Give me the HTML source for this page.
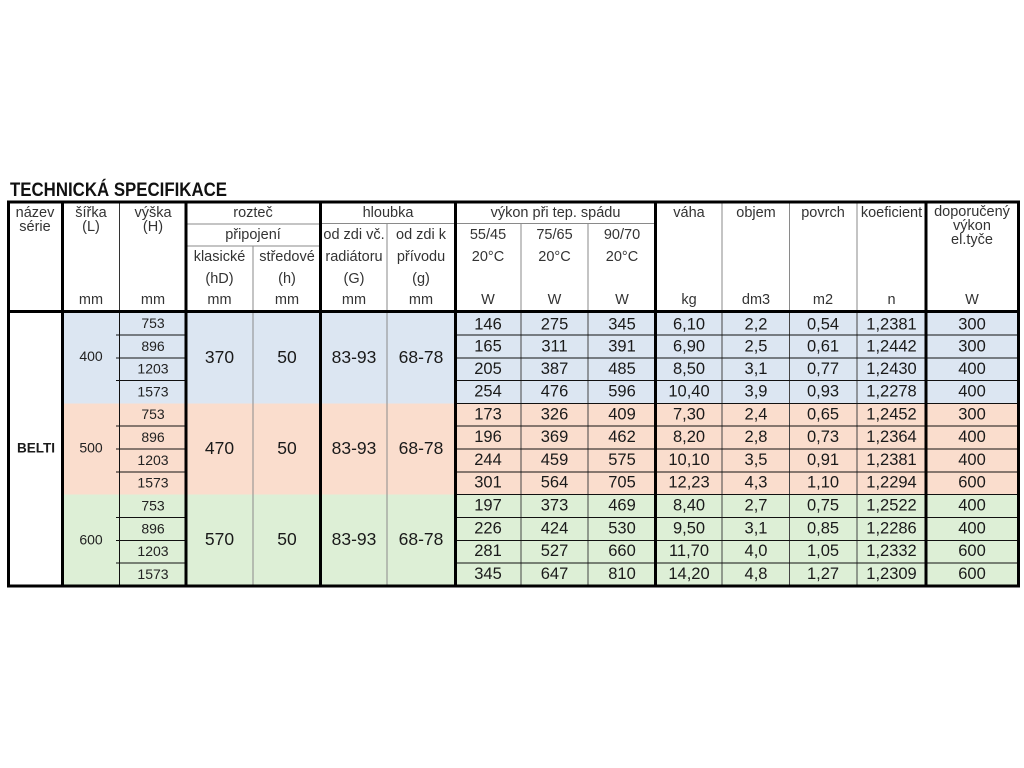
<!DOCTYPE html>
<html><head><meta charset="utf-8"><style>
html,body{margin:0;padding:0;background:#fff;}
svg{display:block;}
text{font-family:"Liberation Sans",Arial,sans-serif;}
.h{font-size:14.5px;fill:#333;text-anchor:middle;}
.d{font-size:16.5px;fill:#1a1a1a;text-anchor:middle;}
.s{font-size:14px;fill:#222;text-anchor:middle;}
.b{font-size:17.5px;fill:#1a1a1a;text-anchor:middle;}
</style></head><body>
<svg width="1024" height="768" viewBox="0 0 1024 768" xmlns="http://www.w3.org/2000/svg">
<rect x="0" y="0" width="1024" height="768" fill="#fff"/>
<text x="10" y="196" font-size="19" font-weight="bold" fill="#111" textLength="217" lengthAdjust="spacingAndGlyphs">TECHNICKÁ SPECIFIKACE</text>

<!-- fills -->
<rect x="62.5" y="312" width="956" height="91.5" fill="#DCE6F2"/>
<rect x="62.5" y="403.5" width="956" height="91" fill="#FADDCD"/>
<rect x="62.5" y="494.5" width="956" height="91.5" fill="#DDEFD6"/>

<!-- header thin lines -->
<g stroke="#8a8a8a" stroke-width="1">
<line x1="186" y1="224" x2="320.5" y2="224"/>
<line x1="320.5" y1="223.5" x2="655.5" y2="223.5"/>
<line x1="186" y1="246" x2="320.5" y2="246"/>
<line x1="253" y1="246" x2="253" y2="311"/>
<line x1="387" y1="223.5" x2="387" y2="311"/>
<line x1="521" y1="223.5" x2="521" y2="311"/>
<line x1="588" y1="223.5" x2="588" y2="311"/>
<line x1="722" y1="202" x2="722" y2="311"/>
<line x1="789.5" y1="202" x2="789.5" y2="311"/>
<line x1="857" y1="202" x2="857" y2="311"/>
</g>
<line x1="119.5" y1="202" x2="119.5" y2="311" stroke="#333" stroke-width="1"/>

<!-- data vertical lines -->
<line x1="119.5" y1="311" x2="119.5" y2="586" stroke="#111" stroke-width="1"/>
<g stroke="#8a8a8a" stroke-width="1">
<line x1="253" y1="311" x2="253" y2="586"/>
<line x1="387" y1="311" x2="387" y2="586"/>
</g>
<g stroke="#444" stroke-width="1">
<line x1="521" y1="311" x2="521" y2="586"/>
<line x1="588" y1="311" x2="588" y2="586"/>
<line x1="722" y1="311" x2="722" y2="586"/>
<line x1="789.5" y1="311" x2="789.5" y2="586"/>
<line x1="857" y1="311" x2="857" y2="586"/>
</g>

<!-- data row lines -->
<g stroke="#111" stroke-width="1">
<line x1="116" y1="335" x2="186" y2="335"/>
<line x1="116" y1="358" x2="186" y2="358"/>
<line x1="116" y1="380.5" x2="186" y2="380.5"/>
<line x1="116" y1="426" x2="186" y2="426"/>
<line x1="116" y1="449" x2="186" y2="449"/>
<line x1="116" y1="472" x2="186" y2="472"/>
<line x1="116" y1="517.5" x2="186" y2="517.5"/>
<line x1="116" y1="540.5" x2="186" y2="540.5"/>
<line x1="116" y1="563" x2="186" y2="563"/>
<line x1="455" y1="335" x2="1018" y2="335"/>
<line x1="455" y1="358" x2="1018" y2="358"/>
<line x1="455" y1="380.5" x2="1018" y2="380.5"/>
<line x1="455" y1="403.5" x2="1018" y2="403.5"/>
<line x1="455" y1="426" x2="1018" y2="426"/>
<line x1="455" y1="449" x2="1018" y2="449"/>
<line x1="455" y1="472" x2="1018" y2="472"/>
<line x1="455" y1="494.5" x2="1018" y2="494.5"/>
<line x1="455" y1="517.5" x2="1018" y2="517.5"/>
<line x1="455" y1="540.5" x2="1018" y2="540.5"/>
<line x1="455" y1="563" x2="1018" y2="563"/>
</g>

<!-- thick lines -->
<g stroke="#000" stroke-width="3">
<rect x="8.5" y="202" width="1010" height="384" fill="none"/>
<line x1="8.5" y1="311.5" x2="1018.5" y2="311.5"/>
<line x1="62.5" y1="202" x2="62.5" y2="586"/>
<line x1="186" y1="202" x2="186" y2="586"/>
<line x1="320.5" y1="202" x2="320.5" y2="586"/>
<line x1="455.5" y1="202" x2="455.5" y2="586"/>
<line x1="655.5" y1="202" x2="655.5" y2="586"/>
<line x1="926" y1="202" x2="926" y2="586"/>
</g>

<!-- header text -->
<g>
<text class="h" x="35" y="217">název</text>
<text class="h" x="35" y="231">série</text>
<text class="h" x="91" y="217">šířka</text>
<text class="h" x="91" y="231">(L)</text>
<text class="h" x="153" y="217">výška</text>
<text class="h" x="153" y="231">(H)</text>
<text class="h" x="253" y="217">rozteč</text>
<text class="h" x="253" y="239">připojení</text>
<text class="h" x="219.5" y="261">klasické</text>
<text class="h" x="219.5" y="283">(hD)</text>
<text class="h" x="287" y="261">středové</text>
<text class="h" x="287" y="283">(h)</text>
<text class="h" x="91" y="304">mm</text>
<text class="h" x="153" y="304">mm</text>
<text class="h" x="219.5" y="304">mm</text>
<text class="h" x="287" y="304">mm</text>
<text class="h" x="388" y="217">hloubka</text>
<text class="h" x="354" y="239">od zdi vč.</text>
<text class="h" x="354" y="261">radiátoru</text>
<text class="h" x="354" y="283">(G)</text>
<text class="h" x="354" y="304">mm</text>
<text class="h" x="421" y="239">od zdi k</text>
<text class="h" x="421" y="261">přívodu</text>
<text class="h" x="421" y="283">(g)</text>
<text class="h" x="421" y="304">mm</text>
<text class="h" x="555.5" y="217">výkon při tep. spádu</text>
<text class="h" x="488" y="239">55/45</text>
<text class="h" x="488" y="261">20°C</text>
<text class="h" x="488" y="304">W</text>
<text class="h" x="554.5" y="239">75/65</text>
<text class="h" x="554.5" y="261">20°C</text>
<text class="h" x="554.5" y="304">W</text>
<text class="h" x="622" y="239">90/70</text>
<text class="h" x="622" y="261">20°C</text>
<text class="h" x="622" y="304">W</text>
<text class="h" x="689" y="217">váha</text>
<text class="h" x="689" y="304">kg</text>
<text class="h" x="756" y="217">objem</text>
<text class="h" x="756" y="304">dm3</text>
<text class="h" x="823" y="217">povrch</text>
<text class="h" x="823" y="304">m2</text>
<text class="h" x="891.5" y="217">koeficient</text>
<text class="h" x="891.5" y="304">n</text>
<text class="h" x="972" y="216">doporučený</text>
<text class="h" x="972" y="230">výkon</text>
<text class="h" x="972" y="244">el.tyče</text>
<text class="h" x="972" y="304">W</text>
</g>

<!-- group text -->
<text x="36" y="452.5" font-size="13.5" font-weight="bold" fill="#1a1a1a" text-anchor="middle">BELTI</text>
<text class="s" x="91" y="361">400</text>
<text class="s" x="91" y="452.5">500</text>
<text class="s" x="91" y="544.5">600</text>
<text class="b" x="219.5" y="363">370</text>
<text class="b" x="219.5" y="454">470</text>
<text class="b" x="219.5" y="545">570</text>
<text class="b" x="287" y="363">50</text>
<text class="b" x="287" y="454">50</text>
<text class="b" x="287" y="545">50</text>
<text class="b" x="354" y="363">83-93</text>
<text class="b" x="354" y="454">83-93</text>
<text class="b" x="354" y="545">83-93</text>
<text class="b" x="421" y="363">68-78</text>
<text class="b" x="421" y="454">68-78</text>
<text class="b" x="421" y="545">68-78</text>

<!-- heights -->
<text class="s" x="153" y="328">753</text>
<text class="s" x="153" y="351">896</text>
<text class="s" x="153" y="373.5">1203</text>
<text class="s" x="153" y="396.5">1573</text>
<text class="s" x="153" y="419">753</text>
<text class="s" x="153" y="442">896</text>
<text class="s" x="153" y="465">1203</text>
<text class="s" x="153" y="487.5">1573</text>
<text class="s" x="153" y="510.5">753</text>
<text class="s" x="153" y="533.5">896</text>
<text class="s" x="153" y="556">1203</text>
<text class="s" x="153" y="579">1573</text>

<!-- data rows -->
<g>
<text class="d" x="488" y="329.5">146</text><text class="d" x="554.5" y="329.5">275</text><text class="d" x="622" y="329.5">345</text><text class="d" x="689" y="329.5">6,10</text><text class="d" x="756" y="329.5">2,2</text><text class="d" x="823" y="329.5">0,54</text><text class="d" x="891.5" y="329.5">1,2381</text><text class="d" x="972" y="329.5">300</text>
<text class="d" x="488" y="351.5">165</text><text class="d" x="554.5" y="351.5">311</text><text class="d" x="622" y="351.5">391</text><text class="d" x="689" y="351.5">6,90</text><text class="d" x="756" y="351.5">2,5</text><text class="d" x="823" y="351.5">0,61</text><text class="d" x="891.5" y="351.5">1,2442</text><text class="d" x="972" y="351.5">300</text>
<text class="d" x="488" y="374">205</text><text class="d" x="554.5" y="374">387</text><text class="d" x="622" y="374">485</text><text class="d" x="689" y="374">8,50</text><text class="d" x="756" y="374">3,1</text><text class="d" x="823" y="374">0,77</text><text class="d" x="891.5" y="374">1,2430</text><text class="d" x="972" y="374">400</text>
<text class="d" x="488" y="396.5">254</text><text class="d" x="554.5" y="396.5">476</text><text class="d" x="622" y="396.5">596</text><text class="d" x="689" y="396.5">10,40</text><text class="d" x="756" y="396.5">3,9</text><text class="d" x="823" y="396.5">0,93</text><text class="d" x="891.5" y="396.5">1,2278</text><text class="d" x="972" y="396.5">400</text>
<text class="d" x="488" y="419.5">173</text><text class="d" x="554.5" y="419.5">326</text><text class="d" x="622" y="419.5">409</text><text class="d" x="689" y="419.5">7,30</text><text class="d" x="756" y="419.5">2,4</text><text class="d" x="823" y="419.5">0,65</text><text class="d" x="891.5" y="419.5">1,2452</text><text class="d" x="972" y="419.5">300</text>
<text class="d" x="488" y="442">196</text><text class="d" x="554.5" y="442">369</text><text class="d" x="622" y="442">462</text><text class="d" x="689" y="442">8,20</text><text class="d" x="756" y="442">2,8</text><text class="d" x="823" y="442">0,73</text><text class="d" x="891.5" y="442">1,2364</text><text class="d" x="972" y="442">400</text>
<text class="d" x="488" y="465">244</text><text class="d" x="554.5" y="465">459</text><text class="d" x="622" y="465">575</text><text class="d" x="689" y="465">10,10</text><text class="d" x="756" y="465">3,5</text><text class="d" x="823" y="465">0,91</text><text class="d" x="891.5" y="465">1,2381</text><text class="d" x="972" y="465">400</text>
<text class="d" x="488" y="487.5">301</text><text class="d" x="554.5" y="487.5">564</text><text class="d" x="622" y="487.5">705</text><text class="d" x="689" y="487.5">12,23</text><text class="d" x="756" y="487.5">4,3</text><text class="d" x="823" y="487.5">1,10</text><text class="d" x="891.5" y="487.5">1,2294</text><text class="d" x="972" y="487.5">600</text>
<text class="d" x="488" y="510.5">197</text><text class="d" x="554.5" y="510.5">373</text><text class="d" x="622" y="510.5">469</text><text class="d" x="689" y="510.5">8,40</text><text class="d" x="756" y="510.5">2,7</text><text class="d" x="823" y="510.5">0,75</text><text class="d" x="891.5" y="510.5">1,2522</text><text class="d" x="972" y="510.5">400</text>
<text class="d" x="488" y="533.5">226</text><text class="d" x="554.5" y="533.5">424</text><text class="d" x="622" y="533.5">530</text><text class="d" x="689" y="533.5">9,50</text><text class="d" x="756" y="533.5">3,1</text><text class="d" x="823" y="533.5">0,85</text><text class="d" x="891.5" y="533.5">1,2286</text><text class="d" x="972" y="533.5">400</text>
<text class="d" x="488" y="556">281</text><text class="d" x="554.5" y="556">527</text><text class="d" x="622" y="556">660</text><text class="d" x="689" y="556">11,70</text><text class="d" x="756" y="556">4,0</text><text class="d" x="823" y="556">1,05</text><text class="d" x="891.5" y="556">1,2332</text><text class="d" x="972" y="556">600</text>
<text class="d" x="488" y="579">345</text><text class="d" x="554.5" y="579">647</text><text class="d" x="622" y="579">810</text><text class="d" x="689" y="579">14,20</text><text class="d" x="756" y="579">4,8</text><text class="d" x="823" y="579">1,27</text><text class="d" x="891.5" y="579">1,2309</text><text class="d" x="972" y="579">600</text>
</g>
</svg>
</body></html>
